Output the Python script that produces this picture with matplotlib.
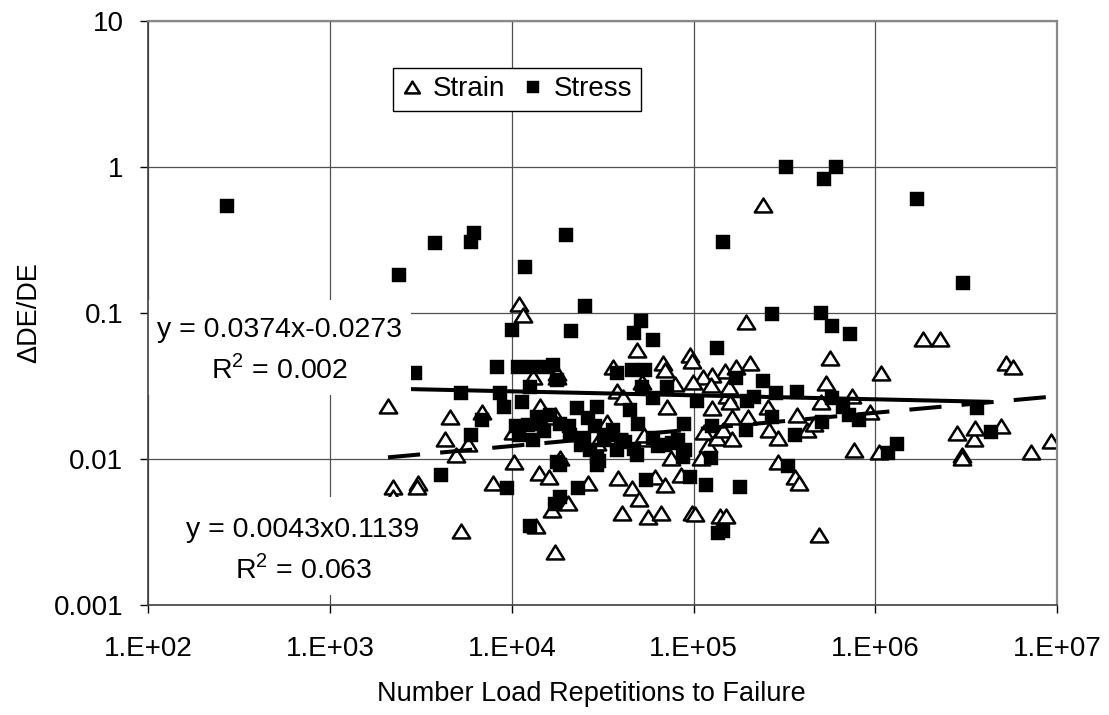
import numpy as np
import matplotlib
matplotlib.use("Agg")
import matplotlib.pyplot as plt
from matplotlib.path import Path
from matplotlib.patches import Rectangle

plt.rcParams['font.family'] = ['Liberation Sans', 'DejaVu Sans']
plt.rcParams['mathtext.fontset'] = 'custom'
plt.rcParams['mathtext.rm'] = 'Liberation Sans'

# strain-controlled tests: repetitions to failure, dDE/DE
strain_n = [2080, 2210, 2210, 3030, 3000, 4280, 4550, 4920, 5240, 5720,
            6830, 7850, 10240, 10100, 10900, 11500, 13000, 17700, 14100, 16100,
            13500, 17200, 16600, 17700, 17200, 16600, 18400, 14200, 26100, 20300,
            29300, 38300, 46100, 50000, 40300, 55800, 66000, 61000, 70000, 85000,
            75000, 110000, 120000, 98000, 102000, 140000, 150000, 55000, 48600, 35900,
            67600, 69500, 95500, 98000, 148000, 127000, 112000, 99000, 124000, 52000,
            78700, 37800, 41000, 71000, 127000, 152000, 33500, 53600, 114000, 134000,
            145000, 163000, 194000, 172000, 205000, 156000, 158000, 163000, 200000, 256000,
            260000, 290000, 370000, 420000, 460000, 500000, 535000, 560000, 740000, 930000,
            290000, 360000, 380000, 490000, 240000, 760000, 1050000, 1080000, 1820000, 2260000,
            2800000, 2990000, 2990000, 3500000, 3550000, 4900000, 5270000, 5750000, 7150000, 9300000]
strain_r = [0.023, 0.0064, 0.0055, 0.0068, 0.0064, 0.0137, 0.0194, 0.0106, 0.0032, 0.0127,
            0.021, 0.0069, 0.0095, 0.0152, 0.115, 0.097, 0.0365, 0.0365, 0.008, 0.0075,
            0.0035, 0.0023, 0.0045, 0.039, 0.020, 0.0194, 0.0102, 0.023, 0.0069, 0.005,
            0.0129, 0.0074, 0.0063, 0.0053, 0.0043, 0.0040, 0.0043, 0.0075, 0.0066, 0.0078,
            0.0102, 0.0102, 0.0125, 0.0043, 0.0042, 0.0041, 0.0041, 0.0137, 0.0558, 0.0427,
            0.0455, 0.041, 0.0515, 0.0467, 0.040, 0.0374, 0.0362, 0.0335, 0.032, 0.0335,
            0.0325, 0.0292, 0.0265, 0.0226, 0.0222, 0.027, 0.0178, 0.0147, 0.0152, 0.014,
            0.0157, 0.0137, 0.087, 0.0427, 0.0455, 0.031, 0.0245, 0.0194, 0.0194, 0.0228,
            0.0157, 0.014, 0.020, 0.0157, 0.0175, 0.0245, 0.033, 0.049, 0.027, 0.021,
            0.0096, 0.0075, 0.0068, 0.003, 0.55, 0.0115, 0.0111, 0.039, 0.066, 0.066,
            0.015, 0.0106, 0.0102, 0.0137, 0.0163, 0.0168, 0.0455, 0.043, 0.0111, 0.0132]

# stress-controlled tests
stress_n = [270, 2390, 2920, 3770, 4060, 5240, 5940, 6170, 5940, 6830,
            8260, 8600, 9000, 9380, 10000, 10800, 10600, 11300, 11800, 12500,
            12200, 12500, 12900, 13700, 14500, 15500, 16300, 16900, 17700, 17200,
            17700, 18400, 18400, 18400, 19800, 20600, 21100, 22700, 23000, 25200,
            26100, 28800, 29300, 29300, 29300, 35900, 37800, 37800, 44500, 46100,
            46800, 48600, 49400, 51200, 54000, 52000, 55000, 59600, 59600, 64000,
            71000, 76000, 87000, 89000, 95000, 104000, 117000, 124000, 127000, 134000,
            136000, 145000, 145000, 172000, 180000, 194000, 197000, 215000, 240000, 269000,
            270000, 285000, 321000, 329000, 360000, 370000, 500000, 510000, 520000, 575000,
            580000, 605000, 660000, 720000, 725000, 810000, 1180000, 1310000, 1690000, 3020000,
            3650000, 4320000, 11000, 15000, 13000, 21000, 25000, 32000, 40000, 24000,
            27000, 30000, 34000, 42000, 47000, 60000, 70000, 82000, 90000]
stress_r = [0.54, 0.182, 0.0388, 0.30, 0.0078, 0.0283, 0.306, 0.353, 0.0147, 0.0186,
            0.0427, 0.0283, 0.0228, 0.0063, 0.0766, 0.043, 0.0168, 0.0245, 0.206, 0.031,
            0.0172, 0.0035, 0.0427, 0.0194, 0.0175, 0.0427, 0.020, 0.044, 0.035, 0.0049,
            0.0095, 0.0175, 0.0091, 0.0055, 0.342, 0.0168, 0.075, 0.0224, 0.0063, 0.112,
            0.019, 0.0168, 0.0228, 0.0104, 0.0091, 0.0157, 0.039, 0.0115, 0.0217, 0.041,
            0.0735, 0.0106, 0.0175, 0.088, 0.041, 0.031, 0.0072, 0.065, 0.026, 0.0122,
            0.031, 0.0129, 0.0104, 0.0175, 0.0075, 0.025, 0.0066, 0.0101, 0.0168, 0.058,
            0.0031, 0.0032, 0.306, 0.036, 0.0064, 0.0157, 0.025, 0.0268, 0.0345, 0.098,
            0.0194, 0.0283, 1.0, 0.0089, 0.0147, 0.029, 0.1, 0.0179, 0.83, 0.081,
            0.026, 1.0, 0.0228, 0.020, 0.072, 0.0185, 0.011, 0.0127, 0.60, 0.16,
            0.0224, 0.0153, 0.0145, 0.0155, 0.0135, 0.0145, 0.014, 0.0135, 0.0135, 0.0125,
            0.0115, 0.0097, 0.0145, 0.013, 0.0118, 0.014, 0.0125, 0.0135, 0.0115]

# power trend lines as printed on the chart: y = a * x^b
stress_fit = (0.0374, -0.0273)
strain_fit = (0.0043, 0.1139)

xticks = [1e2, 1e3, 1e4, 1e5, 1e6, 1e7]
xtick_labels = ['1.E+02', '1.E+03', '1.E+04', '1.E+05', '1.E+06', '1.E+07']
yticks = [0.001, 0.01, 0.1, 1, 10]
ytick_labels = ['0.001', '0.01', '0.1', '1', '10']

fig = plt.figure(figsize=(11.09, 7.15), dpi=100)
ax = fig.add_axes([0.1339, 0.1538, 0.8192, 0.8168])
ax.set_xscale('log')
ax.set_yscale('log')
ax.set_xlim(1e2, 1e7)
ax.set_ylim(1e-3, 10)
ax.set_axisbelow(True)
ax.grid(True, which='major', color='#505050', linewidth=0.9)
ax.minorticks_off()

# flattened open triangle like the excel marker
tri = Path([(-1, -0.8), (1, -0.8), (0, 0.8), (-1, -0.8)],
           [Path.MOVETO, Path.LINETO, Path.LINETO, Path.CLOSEPOLY])

ax.plot(strain_n, strain_r, linestyle='none', marker=tri, markersize=12.5,
        markerfacecolor='white', markeredgecolor='black', markeredgewidth=1.8,
        label='Strain', zorder=2)
ax.plot(stress_n, stress_r, linestyle='none', marker='s', markersize=10,
        markerfacecolor='black', markeredgecolor='black', markeredgewidth=0.3,
        label='Stress', zorder=2.1)

xs = np.geomspace(min(stress_n), max(stress_n), 200)
ax.plot(xs, stress_fit[0] * xs ** stress_fit[1], color='black', lw=2.9,
        solid_capstyle='butt', zorder=2.2)
xe = np.geomspace(min(strain_n), 1e7, 200)
ax.plot(xe, strain_fit[0] * xe ** strain_fit[1], color='black', lw=2.9,
        linestyle=(0, (8, 5)), dash_capstyle='butt', zorder=2.2)

# white label boxes of the trendline equations
ax.add_patch(Rectangle((0.0, 0.360), 0.289, 0.162, transform=ax.transAxes,
                       facecolor='white', edgecolor='none', zorder=2.4))
ax.add_patch(Rectangle((0.035, 0.017), 0.273, 0.168, transform=ax.transAxes,
                       facecolor='white', edgecolor='none', zorder=2.4))
ax.text(0.1447, 0.459, 'y = 0.0374x-0.0273', transform=ax.transAxes,
        ha='center', va='baseline', fontsize=20.5, zorder=3)
ax.text(0.1442, 0.3887, 'R$^{2}$ = 0.002', transform=ax.transAxes,
        ha='center', va='baseline', fontsize=20.5, zorder=3)
ax.text(0.170, 0.1164, 'y = 0.0043x0.1139', transform=ax.transAxes,
        ha='center', va='baseline', fontsize=20.5, zorder=3)
ax.text(0.171, 0.0462, 'R$^{2}$ = 0.063', transform=ax.transAxes,
        ha='center', va='baseline', fontsize=20.5, zorder=3)

ax.set_xticks(xticks, xtick_labels)
ax.set_yticks(yticks, ytick_labels)
ax.tick_params(axis='x', length=6, width=1, pad=16, labelsize=20)
ax.tick_params(axis='y', length=6, width=1, pad=12, labelsize=20)

for side in ['left', 'bottom']:
    ax.spines[side].set_color('#404040')
    ax.spines[side].set_linewidth(1.2)
for side in ['top', 'right']:
    ax.spines[side].set_color('#888888')
    ax.spines[side].set_linewidth(1.6)

ax.set_xlabel('Number Load Repetitions to Failure', fontsize=19.5)
ax.xaxis.set_label_coords(0.488, -0.130)
ax.set_ylabel('\u0394DE/DE', fontsize=19.5)
ax.yaxis.set_label_coords(-0.117, 0.5)

leg = ax.legend(loc='upper left', bbox_to_anchor=(0.269, 0.9195), ncol=2,
                fontsize=20, frameon=True, fancybox=False, framealpha=1,
                edgecolor='black', borderaxespad=0, borderpad=0.3,
                handlelength=0.8, handletextpad=0.35, columnspacing=0.6,
                markerscale=0.85)
leg.get_frame().set_linewidth(1.0)

fig.savefig('out.png', dpi=100)
